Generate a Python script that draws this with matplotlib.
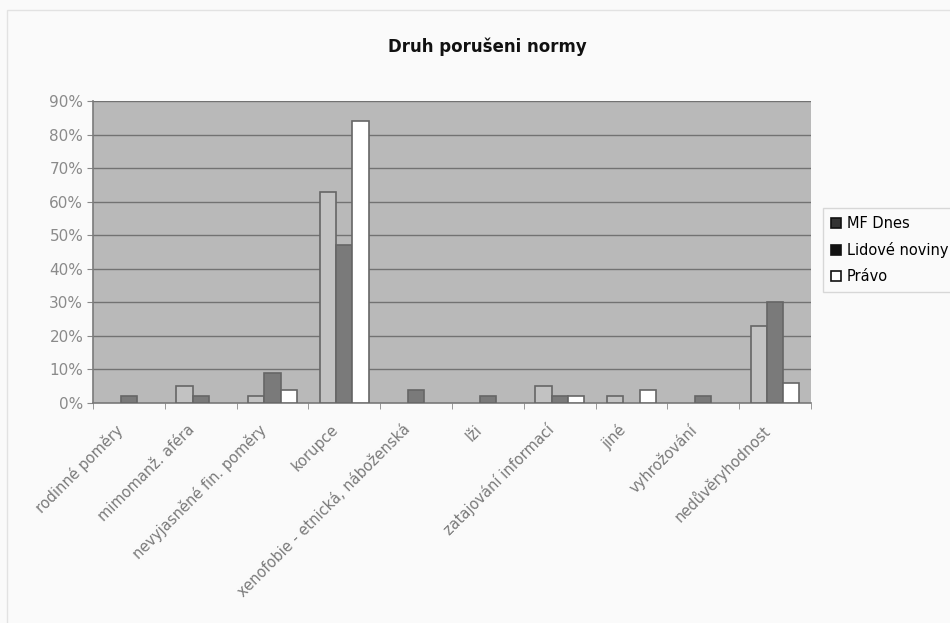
import numpy as np
import matplotlib.pyplot as plt
from matplotlib.patches import Rectangle
from matplotlib.transforms import ScaledTranslation

# Data (percent)
kategorie = ['rodinné poměry', 'mimomanž. aféra', 'nevyjasněné fin. poměry', 'korupce',
             'xenofobie - etnická, náboženská', 'lži', 'zatajování informací', 'jiné',
             'vyhrožování', 'nedůvěryhodnost']
mf_dnes = [0, 5, 2, 63, 0, 0, 5, 2, 0, 23]
lidove_noviny = [2, 2, 9, 47, 4, 2, 2, 0, 2, 30]
pravo = [0, 0, 4, 84, 0, 0, 2, 4, 0, 6]
y_ticks = [0, 10, 20, 30, 40, 50, 60, 70, 80, 90]

fig = plt.figure(figsize=(9.5, 6.23), dpi=100, facecolor='#fafafa')
ax = fig.add_axes([0.0979, 0.3531, 0.7558, 0.4848])
ax.set_facecolor('#b9b9b9')

# faint outer chart border
fig.patches.append(Rectangle((7 / 950, -0.05), 1.2, 1 - 10 / 623 + 0.05, transform=fig.transFigure,
                             fill=False, edgecolor='#e2e2e2', lw=1))

x = np.arange(len(kategorie))
w = 0.225
edge = '#666666'
serie = [(mf_dnes, '#c2c2c2', 'MF Dnes'),
         (lidove_noviny, '#7a7a7a', 'Lidové noviny'),
         (pravo, 'white', 'Právo')]
for i, (vals, barva, nazev) in enumerate(serie):
    bars = ax.bar(x + (i - 1) * w, vals, w, color=barva, edgecolor=edge, lw=1.2,
                  label=nazev, zorder=3)
    for b, v in zip(bars, vals):
        if v == 0:
            b.set_visible(False)

ax.set_xlim(-0.5, len(kategorie) - 0.5)
ax.set_ylim(0, 90)
ax.set_yticks(y_ticks)
ax.set_yticklabels([f'{v}%' for v in y_ticks], color='#8a8a8a', fontsize=11)
ax.yaxis.grid(True, color='#727272', lw=1, zorder=1)
ax.set_axisbelow(True)

ax.set_xticks(x)
ax.set_xticklabels(kategorie, rotation=45, ha='right', rotation_mode='anchor',
                   color='#7a7a7a', fontsize=10.5)
ax.tick_params(axis='x', length=0, pad=10)
posun = ScaledTranslation(-14 / 100, -5 / 100, fig.dpi_scale_trans)
for lbl in ax.get_xticklabels():
    lbl.set_transform(lbl.get_transform() + posun)
ax.set_xticks(np.arange(len(kategorie) + 1) - 0.5, minor=True)
ax.tick_params(axis='x', which='minor', length=4, color='#888888')
ax.tick_params(axis='y', length=4, color='#888888', pad=3)

for s in ['top', 'right']:
    ax.spines[s].set_visible(False)
for s in ['left', 'bottom']:
    ax.spines[s].set_color('#7a7a7a')
    ax.spines[s].set_linewidth(1.2)

fig.text(0.513, 1 - 47 / 623, 'Druh porušeni normy', ha='center', va='center',
         fontsize=12, fontweight='bold', color='#111111')

leg = fig.legend(loc='upper left', bbox_to_anchor=(823 / 950, 1 - 208 / 623), fontsize=10.5,
                 frameon=True, fancybox=False, edgecolor='#cfcfcf', facecolor='#fafafa',
                 handlelength=0.7, handleheight=0.7, handletextpad=0.4, labelspacing=0.75,
                 borderpad=0.55, borderaxespad=0)
for h in leg.legend_handles:
    h.set_edgecolor('#111111')
    h.set_visible(True)
leg.legend_handles[0].set_facecolor('#333333')
leg.legend_handles[1].set_facecolor('#111111')

fig.savefig('out.png', dpi=100, facecolor=fig.get_facecolor())
